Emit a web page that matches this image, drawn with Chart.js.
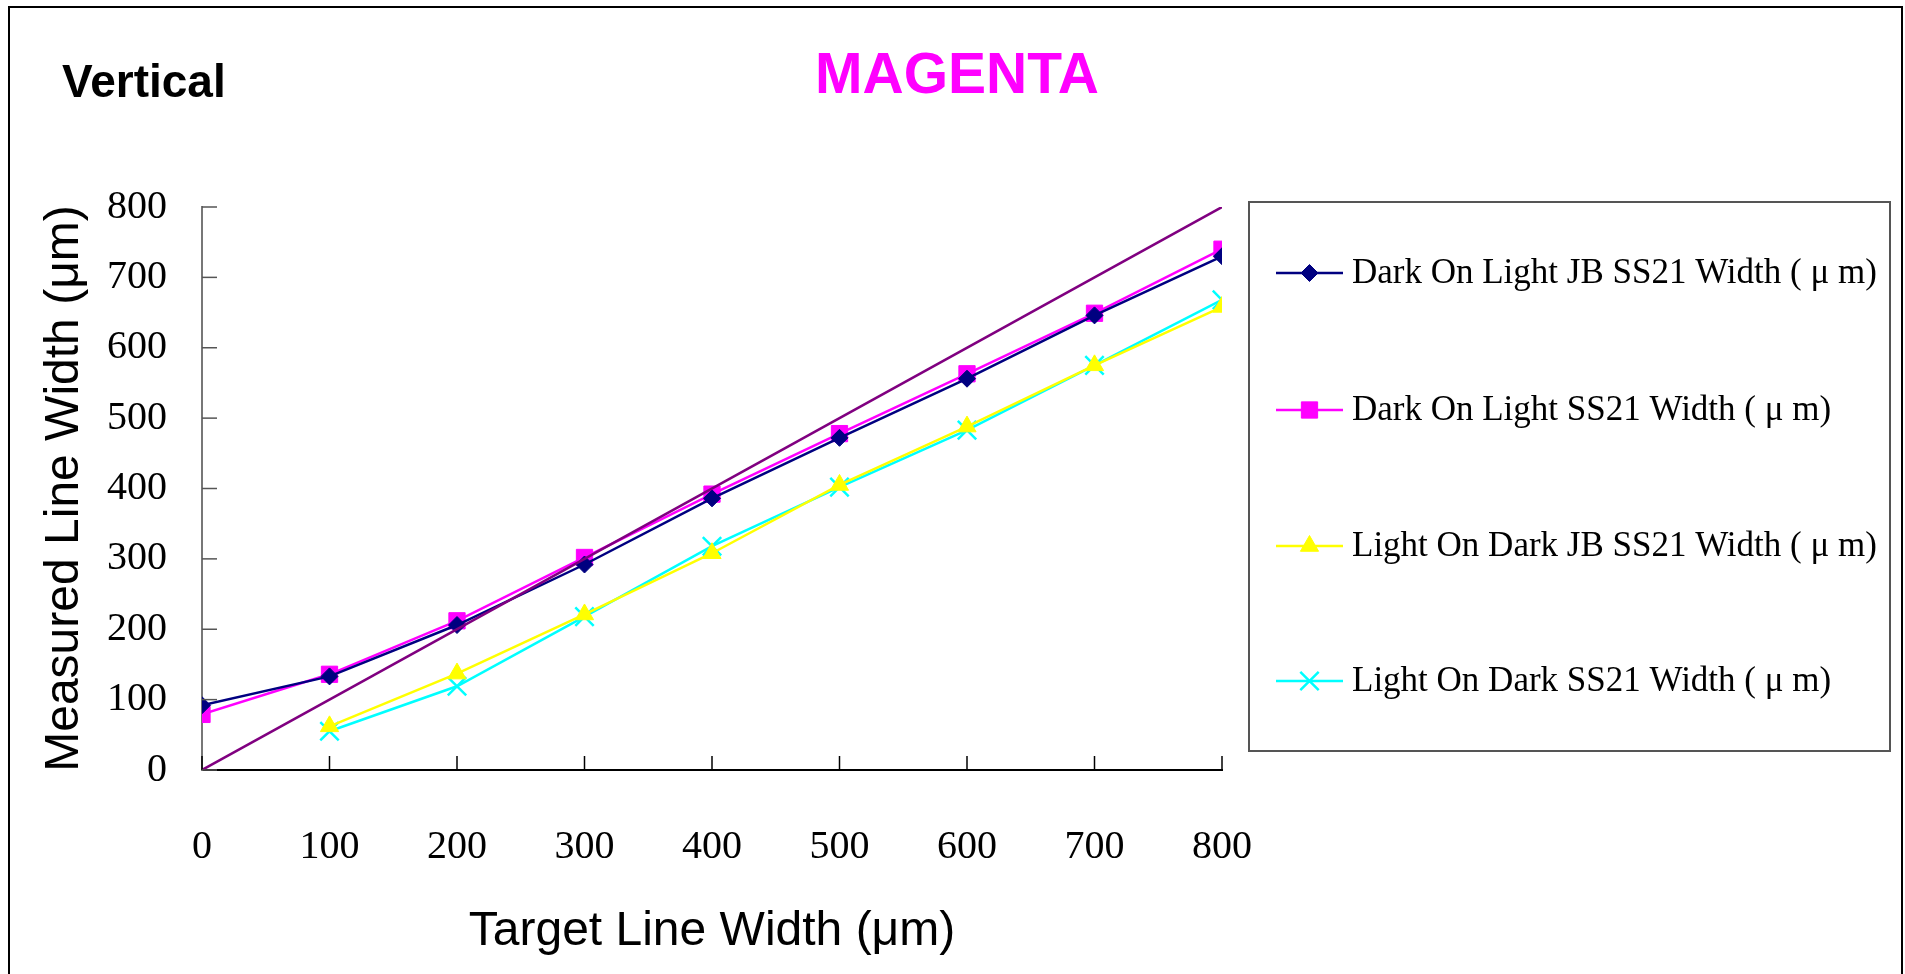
<!DOCTYPE html>
<html>
<head>
<meta charset="utf-8">
<script src="https://cdn.jsdelivr.net/npm/chart.js@4.4.1/dist/chart.umd.min.js"></script>
<style>
  html, body { margin: 0; padding: 0; background: #fff; overflow: hidden; }
  #wrap { position: relative; width: 1905px; height: 974px; }
</style>
</head>
<body>
<div id="wrap"><canvas id="c"></canvas></div>
<script>
// ---- data ----
const targetWidths = [0, 100, 200, 300, 400, 500, 600, 700, 800];
const darkOnLightJB = [92, 133, 206, 292, 386, 472, 556, 646, 730];
const darkOnLightSS = [79, 136, 212, 302, 392, 478, 563, 649, 740];
const lightOnDarkJB = [null, 62, 137, 221, 308, 405, 488, 575, 658];
const lightOnDarkSS = [null, 55, 119, 218, 318, 402, 483, 575, 668];
const idealLine = [[0, 0], [800, 800]];
const seriesLabels = [
  'Dark On Light JB SS21 Width ( \u03BC m)',
  'Dark On Light SS21 Width ( \u03BC m)',
  'Light On Dark JB SS21 Width ( \u03BC m)',
  'Light On Dark SS21 Width ( \u03BC m)'
];
const chartTitle = 'MAGENTA';
const cornerTitle = 'Vertical';
const xTitle = 'Target Line Width (\u03BCm)';
const yTitle = 'Measured Line Width (\u03BCm)';

function pairs(ys) { return targetWidths.map((x, i) => ({ x: x, y: ys[i] })); }

function series(label, ys, color, style, radius, bw) {
  return {
    label: label, data: pairs(ys), borderColor: color, backgroundColor: color,
    borderWidth: 2.5, pointStyle: style, pointRadius: radius, pointHoverRadius: radius,
    pointBorderWidth: bw, pointBorderColor: color, pointBackgroundColor: color,
    fill: false, tension: 0, spanGaps: false, legendItem: true
  };
}

const datasets = [
  { label: 'ideal', data: idealLine.map(p => ({ x: p[0], y: p[1] })), borderColor: '#800080',
    borderWidth: 2.5, pointRadius: 0, pointHoverRadius: 0, fill: false, tension: 0 },
  series(seriesLabels[0], darkOnLightJB, '#000080', 'rectRot', 8.5, 1),
  series(seriesLabels[1], darkOnLightSS, '#FF00FF', 'rect', 11.5, 1),
  series(seriesLabels[2], lightOnDarkJB, '#FFFF00', 'triangle', 10.5, 1),
  series(seriesLabels[3], lightOnDarkSS, '#00FFFF', 'crossRot', 13, 2.5)
];

function drawMarker(ctx, style, x, y, r, color, bw) {
  ctx.save();
  ctx.fillStyle = color; ctx.strokeStyle = color; ctx.lineWidth = bw;
  ctx.beginPath();
  if (style === 'rectRot') {
    ctx.moveTo(x, y - r); ctx.lineTo(x + r, y); ctx.lineTo(x, y + r); ctx.lineTo(x - r, y); ctx.closePath();
    ctx.fill(); ctx.stroke();
  } else if (style === 'rect') {
    const s = r * Math.SQRT1_2;
    ctx.rect(x - s, y - s, 2 * s, 2 * s); ctx.fill(); ctx.stroke();
  } else if (style === 'triangle') {
    ctx.moveTo(x, y - r);
    ctx.lineTo(x + r * Math.sin(Math.PI / 3), y + r * 0.5);
    ctx.lineTo(x - r * Math.sin(Math.PI / 3), y + r * 0.5);
    ctx.closePath(); ctx.fill(); ctx.stroke();
  } else if (style === 'crossRot') {
    const d = r * Math.SQRT1_2;
    ctx.moveTo(x - d, y - d); ctx.lineTo(x + d, y + d);
    ctx.moveTo(x + d, y - d); ctx.lineTo(x - d, y + d);
    ctx.stroke();
  }
  ctx.restore();
}

const decorPlugin = {
  id: 'decor',
  beforeDraw(chart) {
    const ctx = chart.ctx;
    ctx.save();
    ctx.fillStyle = '#fff';
    ctx.fillRect(0, 0, chart.width, chart.height);
    // outer frame
    ctx.strokeStyle = '#000'; ctx.lineWidth = 2;
    ctx.beginPath();
    ctx.moveTo(9, 975); ctx.lineTo(9, 7); ctx.lineTo(1902, 7); ctx.lineTo(1902, 975);
    ctx.stroke();
    // titles
    ctx.textBaseline = 'alphabetic';
    ctx.fillStyle = '#FF00FF';
    ctx.font = 'bold 57px "Liberation Sans", Arial, sans-serif';
    ctx.textAlign = 'center';
    ctx.fillText(chartTitle, 957, 93);
    ctx.fillStyle = '#000';
    ctx.font = 'bold 46px "Liberation Sans", Arial, sans-serif';
    ctx.textAlign = 'left';
    ctx.fillText(cornerTitle, 62, 97);
    ctx.restore();
  },
  afterDatasetsDraw(chart) {
    const ctx = chart.ctx;
    const xs = chart.scales.x, ys = chart.scales.y;
    const a = chart.chartArea;
    ctx.save();
    // inner tick marks
    ctx.lineWidth = 1.5;
    ctx.strokeStyle = '#000';
    xs.ticks.forEach(t => {
      const px = xs.getPixelForValue(t.value);
      ctx.beginPath(); ctx.moveTo(px, a.bottom); ctx.lineTo(px, a.bottom - 14); ctx.stroke();
    });
    ctx.strokeStyle = '#555';
    ys.ticks.forEach(t => {
      const py = ys.getPixelForValue(t.value);
      ctx.beginPath(); ctx.moveTo(a.left, py); ctx.lineTo(a.left + 15, py); ctx.stroke();
    });
    // legend
    const L = 1249, T = 202, R = 1890, B = 751;
    ctx.fillStyle = '#fff';
    ctx.fillRect(L, T, R - L, B - T);
    ctx.strokeStyle = '#555'; ctx.lineWidth = 2;
    ctx.strokeRect(L, T, R - L, B - T);
    const rowY = [273, 410, 546, 681];
    let row = 0;
    chart.data.datasets.forEach(ds => {
      if (!ds.legendItem) return;
      const y = rowY[row++];
      ctx.strokeStyle = ds.borderColor; ctx.lineWidth = 2.5;
      ctx.beginPath(); ctx.moveTo(1276, y); ctx.lineTo(1343, y); ctx.stroke();
      drawMarker(ctx, ds.pointStyle, 1309.5, y, ds.pointRadius, ds.borderColor, ds.pointBorderWidth);
      ctx.fillStyle = '#000';
      ctx.font = '35px "Liberation Serif", "Times New Roman", serif';
      ctx.textAlign = 'left'; ctx.textBaseline = 'middle';
      ctx.fillText(ds.label, 1352, y + 1);
    });
    ctx.restore();
  }
};

new Chart(document.getElementById('c'), {
  type: 'line',
  data: { datasets: datasets },
  options: {
    responsive: true, maintainAspectRatio: false, animation: false,
    layout: { padding: { top: 207, right: 683, bottom: 0, left: 0 } },
    plugins: { legend: { display: false }, title: { display: false }, tooltip: { enabled: false } },
    events: [],
    scales: {
      x: {
        type: 'linear', min: 0, max: 800,
        ticks: { stepSize: 100, color: '#000', padding: 53,
          font: { family: '"Liberation Serif", "Times New Roman", serif', size: 40 } },
        grid: { drawOnChartArea: false, drawTicks: false },
        border: { display: true, color: '#000', width: 2 },
        title: { display: true, text: xTitle, color: '#000',
          font: { family: '"Liberation Sans", Arial, sans-serif', size: 48 },
          padding: { top: 0, bottom: 13 } },
        afterFit(s) { s.height = 204; }
      },
      y: {
        type: 'linear', min: 0, max: 800,
        ticks: { stepSize: 100, color: '#000', padding: 35,
          font: { family: '"Liberation Serif", "Times New Roman", serif', size: 40 } },
        grid: { drawOnChartArea: false, drawTicks: false },
        border: { display: true, color: '#777', width: 2 },
        title: { display: true, text: yTitle, color: '#000',
          font: { family: '"Liberation Sans", Arial, sans-serif', size: 48 },
          padding: { top: 36, bottom: 0 } },
        afterFit(s) { s.width = 202; }
      }
    }
  },
  plugins: [decorPlugin]
});
</script>
</body>
</html>
